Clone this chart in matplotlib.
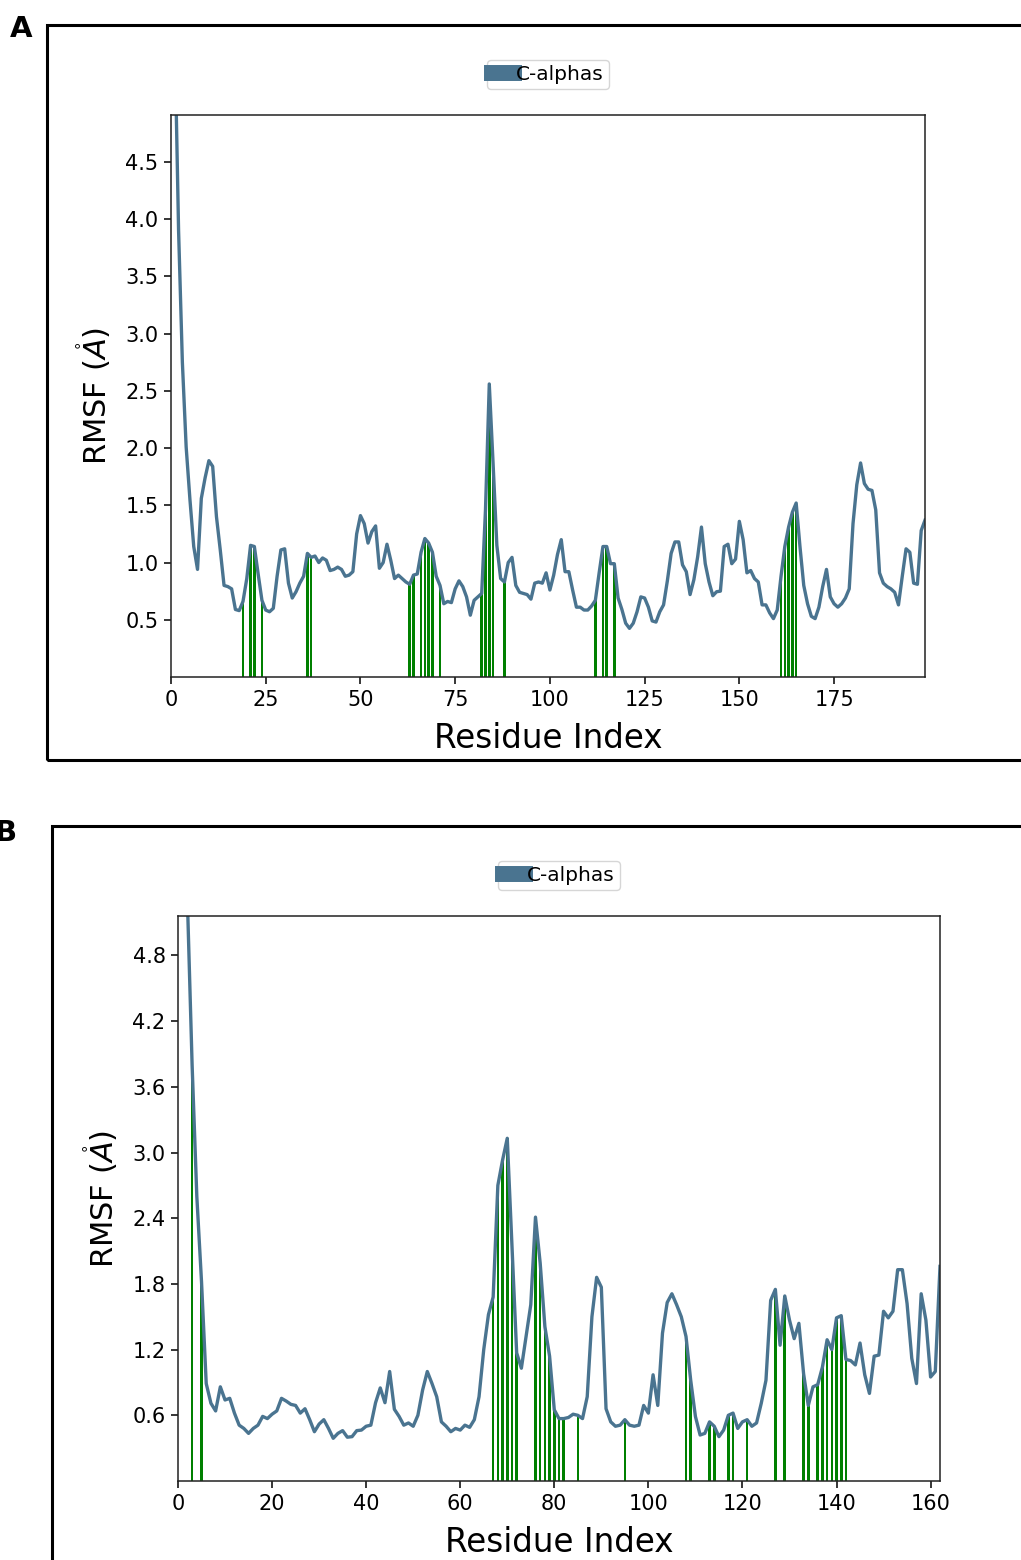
import numpy as np
import matplotlib
matplotlib.use("Agg")
import matplotlib.pyplot as plt
from matplotlib.lines import Line2D
from matplotlib.patches import Rectangle

# ---------------- Data: panel A ----------------
resid_a = list(range(1, 200))
rmsf_a = [
    5.60, 3.90, 2.75, 2.01, 1.55, 1.14, 0.94, 1.56, 1.74, 1.89,
    1.84, 1.40, 1.11, 0.80, 0.79, 0.77, 0.59, 0.58, 0.66, 0.86,
    1.15, 1.14, 0.90, 0.67, 0.585, 0.57, 0.60, 0.88, 1.11, 1.12,
    0.82, 0.69, 0.745, 0.82, 0.88, 1.08, 1.045, 1.057, 1.00, 1.04,
    1.02, 0.93, 0.94, 0.96, 0.94, 0.88, 0.89, 0.92, 1.25, 1.41,
    1.34, 1.17, 1.27, 1.32, 0.95, 1.00, 1.16, 1.02, 0.86, 0.89,
    0.86, 0.83, 0.81, 0.89, 0.90, 1.09, 1.21, 1.17, 1.09, 0.88,
    0.80, 0.64, 0.66, 0.65, 0.77, 0.84, 0.79, 0.70, 0.54, 0.67,
    0.70, 0.73, 1.46, 2.56, 1.87, 1.15, 0.86, 0.83, 1.00, 1.045,
    0.80, 0.74, 0.73, 0.72, 0.68, 0.82, 0.83, 0.82, 0.91, 0.76,
    0.89, 1.07, 1.20, 0.92, 0.92, 0.76, 0.61, 0.61, 0.585, 0.585,
    0.62, 0.67, 0.91, 1.14, 1.14, 0.99, 0.99, 0.69, 0.59, 0.47,
    0.425, 0.47, 0.57, 0.70, 0.69, 0.61, 0.49, 0.48, 0.57, 0.63,
    0.84, 1.08, 1.18, 1.18, 0.98, 0.92, 0.72, 0.85, 1.05, 1.31,
    0.99, 0.83, 0.71, 0.745, 0.75, 1.14, 1.16, 0.99, 1.03, 1.36,
    1.20, 0.91, 0.93, 0.86, 0.83, 0.63, 0.63, 0.56, 0.51, 0.585,
    0.88, 1.14, 1.31, 1.44, 1.52, 1.14, 0.80, 0.64, 0.53, 0.51,
    0.61, 0.79, 0.94, 0.70, 0.64, 0.61, 0.64, 0.69, 0.77, 1.34,
    1.68, 1.87, 1.69, 1.64, 1.63, 1.46, 0.91, 0.82, 0.79, 0.77,
    0.74, 0.63, 0.88, 1.12, 1.09, 0.82, 0.81, 1.28, 1.37,
]
sel_a = [19, 21, 22, 24, 36, 37, 63, 64, 66, 67, 68, 69, 71,
         82, 83, 84, 85, 88, 112, 114, 115, 117, 161, 162, 163, 164, 165]
xticks_a = [0, 25, 50, 75, 100, 125, 150, 175]
yticks_a = [0.5, 1.0, 1.5, 2.0, 2.5, 3.0, 3.5, 4.0, 4.5]

# ---------------- Data: panel B ----------------
resid_b = list(range(1, 163))
rmsf_b = [
    6.50, 5.30, 3.80, 2.60, 1.82, 0.89, 0.71, 0.64, 0.86, 0.74,
    0.755, 0.62, 0.51, 0.48, 0.435, 0.48, 0.51, 0.59, 0.57, 0.61,
    0.64, 0.755, 0.73, 0.70, 0.69, 0.62, 0.66, 0.56, 0.45, 0.52,
    0.56, 0.48, 0.39, 0.435, 0.46, 0.40, 0.405, 0.46, 0.465, 0.50,
    0.51, 0.715, 0.85, 0.715, 1.00, 0.655, 0.59, 0.51, 0.53, 0.50,
    0.60, 0.83, 1.00, 0.89, 0.77, 0.54, 0.50, 0.45, 0.48, 0.465,
    0.51, 0.49, 0.56, 0.77, 1.20, 1.52, 1.68, 2.70, 2.93, 3.13,
    2.14, 1.17, 1.03, 1.32, 1.61, 2.41, 1.99, 1.41, 1.14, 0.65,
    0.57, 0.57, 0.58, 0.61, 0.60, 0.57, 0.77, 1.50, 1.86, 1.77,
    0.66, 0.54, 0.50, 0.51, 0.56, 0.51, 0.50, 0.51, 0.69, 0.62,
    0.97, 0.69, 1.35, 1.63, 1.71, 1.61, 1.50, 1.32, 0.92, 0.59,
    0.42, 0.435, 0.54, 0.50, 0.405, 0.465, 0.60, 0.62, 0.48, 0.54,
    0.56, 0.50, 0.53, 0.71, 0.92, 1.65, 1.75, 1.24, 1.69, 1.47,
    1.30, 1.44, 0.98, 0.69, 0.86, 0.88, 1.04, 1.29, 1.20, 1.49,
    1.51, 1.11, 1.10, 1.06, 1.26, 0.97, 0.80, 1.14, 1.15, 1.55,
    1.49, 1.55, 1.93, 1.93, 1.62, 1.12, 0.89, 1.71, 1.47, 0.95,
    1.00, 1.96,
]
sel_b = [3, 5, 67, 68, 69, 70, 71, 72, 76, 77, 78, 79, 80, 81, 82, 85, 95,
         108, 109, 113, 114, 117, 118, 121, 127, 129, 133, 134,
         136, 137, 138, 139, 140, 141, 142]
xticks_b = [0, 20, 40, 60, 80, 100, 120, 140, 160]
yticks_b = [0.6, 1.2, 1.8, 2.4, 3.0, 3.6, 4.2, 4.8]

LINE_COLOR = "#4a7490"
BAR_COLOR = "#008000"

W, H = 1021, 1560
fig = plt.figure(figsize=(W / 100, H / 100), dpi=100)


def fx(px):
    return px / W


def fy(py):
    return 1 - py / H


def panel(left, top, right, bottom, resid, rmsf, sel, xlim, ylim, xticks, yticks, barw):
    ax = fig.add_axes([fx(left), fy(bottom), fx(right) - fx(left), fy(top) - fy(bottom)])
    lookup = dict(zip(resid, rmsf))
    ax.bar(sel, [lookup[s] for s in sel], width=barw, color=BAR_COLOR, linewidth=0, zorder=1)
    ax.plot(resid, rmsf, color=LINE_COLOR, lw=2.4, zorder=2)
    ax.set_xlim(*xlim)
    ax.set_ylim(*ylim)
    ax.set_xticks(xticks)
    ax.set_yticks(yticks)
    ax.set_yticklabels([f"{t:.1f}" for t in yticks])
    ax.tick_params(labelsize=15, length=5, width=1.1, colors="black", pad=4)
    for s in ax.spines.values():
        s.set_linewidth(1.1)
        s.set_color("#222222")
    ax.set_xlabel("Residue Index", fontsize=23.5, labelpad=9)
    ax.set_ylabel(r"RMSF ($\mathring{A}$)", fontsize=22, labelpad=9)
    h = Line2D([0], [0], color=LINE_COLOR, lw=11.5, solid_capstyle="projecting")
    ax.legend(handles=[h], labels=["C-alphas"], loc="lower center",
              bbox_to_anchor=(0.5, 1.0), borderaxespad=1.3, fontsize=14.5,
              handlelength=1.1, handletextpad=0.1, borderpad=0.25,
              frameon=True, fancybox=True)
    return ax


panel(171, 115, 925, 677, resid_a, rmsf_a, sel_a, (0, 199), (0, 4.91),
      xticks_a, yticks_a, 0.65)
panel(178, 916, 940, 1481, resid_b, rmsf_b, sel_b, (0, 162), (0, 5.16),
      xticks_b, yticks_b, 0.55)

# panel frames
fig.patches.append(Rectangle((fx(47), fy(760)), fx(1040) - fx(47), fy(25) - fy(760),
                             transform=fig.transFigure, fill=False, lw=2.2,
                             edgecolor="black", clip_on=False))
fig.patches.append(Rectangle((fx(52), fy(1600)), fx(1040) - fx(52), fy(826) - fy(1600),
                             transform=fig.transFigure, fill=False, lw=2.2,
                             edgecolor="black", clip_on=False))

fig.text(fx(21), fy(29), "A", fontsize=21, fontweight="bold", ha="center", va="center")
fig.text(fx(5), fy(833), "B", fontsize=21, fontweight="bold", ha="center", va="center")

fig.savefig("out.png", dpi=100)
